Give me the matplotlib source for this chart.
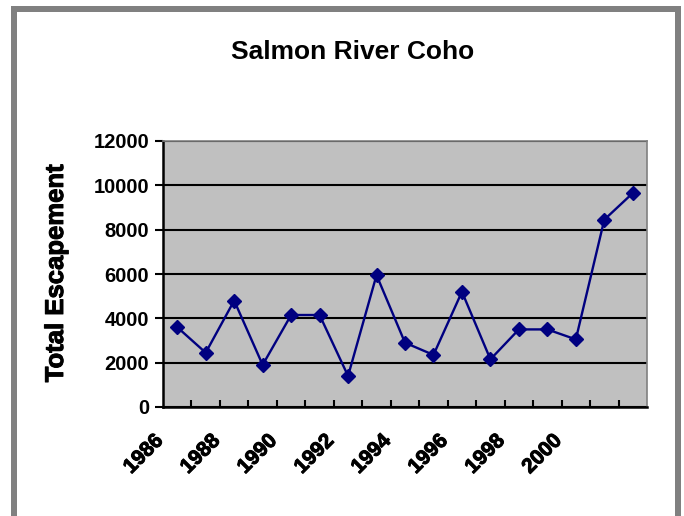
import matplotlib.pyplot as plt
import matplotlib.patheffects as pe
from matplotlib.patches import Rectangle
from matplotlib.transforms import ScaledTranslation

plt.rcParams['font.family'] = ['Liberation Sans', 'DejaVu Sans']
plt.rcParams['font.weight'] = 'bold'

years = list(range(1986, 2003))
escapement = [3600, 2450, 4800, 1900, 4150, 4150, 1400, 5950,
              2900, 2350, 5200, 2150, 3500, 3500, 3050, 8450, 9650]
label_years = [1986, 1988, 1990, 1992, 1994, 1996, 1998, 2000]
y_ticks = [0, 2000, 4000, 6000, 8000, 10000, 12000]

W, H = 684, 516
fig = plt.figure(figsize=(W / 100, H / 100), dpi=100)

# grey frame around the chart (no bottom edge, it runs off the picture)
grey = '#808080'
for x0, y0, w, h in [(11, 6, 6, 600), (11, 6, 670, 6), (675, 6, 6, 600)]:
    fig.add_artist(Rectangle((x0 / W, 1 - (y0 + h) / H), w / W, h / H,
                             transform=fig.transFigure, color=grey, lw=0))

ax = fig.add_axes([163 / W, 1 - 407 / H, (647 - 163) / W, (407 - 141) / H])
ax.set_facecolor('#C0C0C0')

ax.plot(years, escapement, color='#000080', lw=1.7, marker='D', ms=7.3,
        mec='#000080', mfc='#000080', zorder=3, clip_on=False)

ax.set_xlim(1985.5, 2002.5)
ax.set_ylim(0, 12000)
ax.set_yticks(y_ticks)
ax.set_yticklabels([str(v) for v in y_ticks], fontsize=14.5, fontweight='bold')
ax.yaxis.grid(True, color='black', lw=1.5)
ax.set_axisbelow(True)
ax.tick_params(axis='y', direction='out', length=6, width=1.5, pad=4)

thick = [pe.withStroke(linewidth=0.7, foreground='black')]

ax.set_xticks(label_years)
ax.set_xticklabels([str(y) for y in label_years], fontsize=15, fontweight='bold')
ax.set_xticks([y + 0.5 for y in years[:-1]], minor=True)
ax.tick_params(axis='x', which='major', length=0, pad=22)
ax.tick_params(axis='x', which='minor', direction='in', length=5, width=1.5)
off = ScaledTranslation(-17 / 100, 0, fig.dpi_scale_trans)
for lab in ax.get_xticklabels():
    lab.set_rotation(45)
    lab.set_ha('right')
    lab.set_va('center')
    lab.set_rotation_mode('anchor')
    lab.set_path_effects(thick)
    lab.set_transform(lab.get_transform() + off)

for side in ['left', 'bottom']:
    ax.spines[side].set_color('black')
    ax.spines[side].set_linewidth(1.8)
for side in ['top', 'right']:
    ax.spines[side].set_color(grey)
    ax.spines[side].set_linewidth(1.2)

fig.text(353 / W, 1 - 52 / H, 'Salmon River Coho', ha='center', va='center',
         fontsize=19, fontweight='bold')
fig.text(56 / W, 1 - 273 / H, 'Total Escapement', ha='center', va='center',
         rotation=90, fontsize=18.5, fontweight='bold', path_effects=thick)

fig.savefig('out.png', dpi=100)
